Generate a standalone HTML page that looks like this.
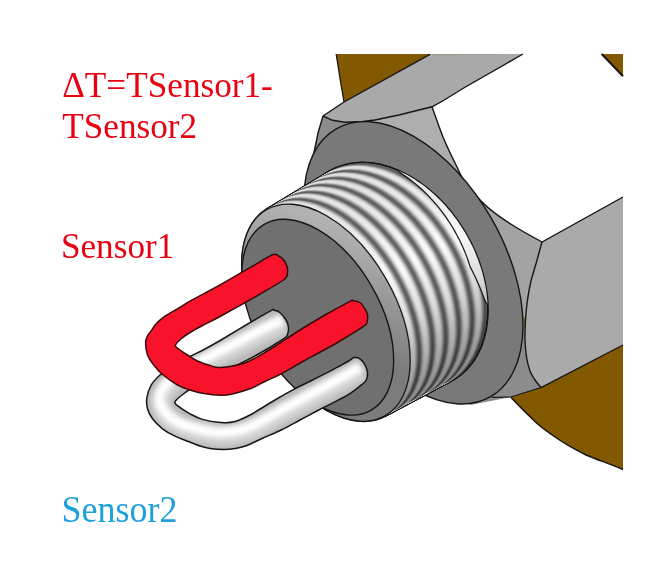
<!DOCTYPE html>
<html><head><meta charset="utf-8"><style>
html,body{margin:0;padding:0;background:#fff;}
svg{display:block;}
text{font-family:"Liberation Serif",serif;}
</style></head><body>
<svg width="648" height="568" viewBox="0 0 648 568">
<defs>
<radialGradient id="thg" cx="0.5" cy="0.5" r="0.5">
<stop offset="0" stop-color="#909090"/>
<stop offset="0.70" stop-color="#909090"/>
<stop offset="0.78" stop-color="#5a5a5a"/>
<stop offset="0.86" stop-color="#ffffff"/>
<stop offset="0.95" stop-color="#e8e8e8"/>
<stop offset="1" stop-color="#606060"/>
</radialGradient>
<linearGradient id="chg" gradientUnits="userSpaceOnUse" x1="250" y1="330" x2="340" y2="250">
<stop offset="0" stop-color="#7c7c7c"/>
<stop offset="1" stop-color="#b2b2b2"/>
</linearGradient>
<linearGradient id="silg" gradientUnits="userSpaceOnUse" x1="300" y1="360" x2="315" y2="390">
<stop offset="0" stop-color="#d0d0d0"/>
<stop offset="0.3" stop-color="#f6f6f6"/>
<stop offset="1" stop-color="#a8a8a8"/>
</linearGradient>
<linearGradient id="colg" gradientUnits="userSpaceOnUse" x1="320" y1="140" x2="520" y2="380">
<stop offset="0" stop-color="#797979"/>
<stop offset="1" stop-color="#6b6b6b"/>
</linearGradient>
<filter id="bl" x="-10%" y="-10%" width="120%" height="120%"><feGaussianBlur stdDeviation="1.2"/></filter>
<filter id="b3" x="-20%" y="-20%" width="140%" height="140%"><feGaussianBlur stdDeviation="2.5"/></filter>
</defs>
<rect width="648" height="568" fill="#fff"/>
<path d="M336.2,54 L623,54 L623,469.5 C610,464 598,460 586,455 C577,450 568,446 561,441 C552,435 543,429 536,422.5 C527,414 519,406 511,397.5 L470,300 L344,102 C343,95 341,85 339,72 C338,64 337,60 336.2,54 Z" fill="#825800"/>
<path d="M336.2,54 C337,60 338,64 339,72 C341,85 343,95 344,102" fill="none" stroke="#161616" stroke-width="1.3"/>
<path d="M511,397.5 C519,406 527,414 536,422.5 C543,429 552,435 561,441 C568,446 577,450 586,455 C598,460 610,464 623,469.5" fill="none" stroke="#161616" stroke-width="1.5"/>
<polygon points="323.0,116.0 345.0,122.0 400.0,118.0 458.0,169.0 482.0,202.0 512.0,269.0 524.0,320.0 529.0,369.0 541.0,387.5 511.0,397.0 470.0,405.0 380.0,300.0 304.0,196.0 305.9,187.0 309.5,172.0 313.5,155.0 318.0,133.0" fill="#8c8c8c"/>
<polygon points="323.0,116.0 344.0,102.0 430.0,54.3 523.0,54.0 462.0,89.0 444.4,100.0 432.0,106.8 400.0,114.8 375.0,120.0 362.5,121.5 345.0,122.3 332.5,120.3" fill="#a9a9a9"/>
<path d="M432,106.8 C436,118 439,127 443,137 C447,147 452,157 458,169 L470,185 L440,175 L350,123 L375,120 L400,114.8 Z" fill="#aeaeae"/>
<path d="M432,106.8 L444.4,100 L462,89 L523,54 L601.7,54 L623,76.3 L623,197 L542,242 C520,230 498,218 482,202 C470,190 462,180 458,169 C452,157 447,147 443,137 C439,127 436,118 432,106.8 Z" fill="#ffffff"/>
<path d="M482,202 C500,217 520,230 542,242 L536.5,262 L531,281 L527.5,300 L525.5,320 L520,310 L510,265 Z" fill="#a3a3a3"/>
<path d="M542.0,242.0 C541.1,245.3 538.3,255.5 536.5,262.0 C534.7,268.5 532.5,274.7 531.0,281.0 C529.5,287.3 528.4,293.5 527.5,300.0 C526.6,306.5 525.9,313.3 525.5,320.0 C525.1,326.7 524.8,333.8 525.0,340.0 C525.2,346.2 525.7,351.8 526.5,357.0 C527.3,362.2 528.6,367.2 530.0,371.0 C531.4,374.8 533.2,377.2 535.0,380.0 C536.8,382.8 540.0,386.2 541.0,387.5 L623,345 L623,197 Z" fill="#aaaaaa"/>
<path d="M323,116 L332.5,120.3 L345,122.3 L362.5,121.5 L375,120 L400,114.8 L432,106.8 L444.4,100 L462,89 L523,54" fill="none" stroke="#161616" stroke-width="1.4"/>
<path d="M323,116 L344,102 L430,54.3" fill="none" stroke="#161616" stroke-width="1.4" stroke-linejoin="round"/>
<path d="M601.7,54 L623,76.3" fill="none" stroke="#161616" stroke-width="2"/>
<path d="M432,106.8 C436,118 439,127 443,137 C447,147 452,157 458,169 C462,180 470,190 482,202 C498,218 520,230 542,242 L623,197" fill="none" stroke="#161616" stroke-width="1.4"/>
<path d="M542.0,242.0 C541.1,245.3 538.3,255.5 536.5,262.0 C534.7,268.5 532.5,274.7 531.0,281.0 C529.5,287.3 528.4,293.5 527.5,300.0 C526.6,306.5 525.9,313.3 525.5,320.0 C525.1,326.7 524.8,333.8 525.0,340.0 C525.2,346.2 525.7,351.8 526.5,357.0 C527.3,362.2 528.6,367.2 530.0,371.0 C531.4,374.8 533.2,377.2 535.0,380.0 C536.8,382.8 540.0,386.2 541.0,387.5 L623,345" fill="none" stroke="#161616" stroke-width="1.4"/>
<path d="M323,116 L318,133 L313.5,155 L309.5,172 L305.9,187 L304,196" fill="none" stroke="#161616" stroke-width="1.4" stroke-linejoin="round"/>
<path d="M541,387.5 L511,397 L491.9,397.4" fill="none" stroke="#161616" stroke-width="1.2"/>
<ellipse cx="0" cy="0" rx="89.70" ry="154.60" transform="translate(413.40 262.80) rotate(-30.0)" fill="url(#colg)" stroke="#161616" stroke-width="1.4"/>
<g><ellipse cx="0" cy="0" rx="84.50" ry="121.00" transform="translate(392.00 275.20) rotate(-31.0)" fill="none" stroke="#161616" stroke-width="2.6"/><ellipse cx="0" cy="0" rx="83.89" ry="120.92" transform="translate(389.39 276.68) rotate(-30.9605244704567)" fill="none" stroke="#161616" stroke-width="2.6"/><ellipse cx="0" cy="0" rx="83.28" ry="120.83" transform="translate(386.78 278.16) rotate(-30.9210489409134)" fill="none" stroke="#161616" stroke-width="2.6"/><ellipse cx="0" cy="0" rx="82.66" ry="120.75" transform="translate(384.17 279.64) rotate(-30.8815734113701)" fill="none" stroke="#161616" stroke-width="2.6"/><ellipse cx="0" cy="0" rx="82.05" ry="120.67" transform="translate(381.56 281.12) rotate(-30.8420978818268)" fill="none" stroke="#161616" stroke-width="2.6"/><ellipse cx="0" cy="0" rx="81.44" ry="120.59" transform="translate(378.95 282.60) rotate(-30.8026223522835)" fill="none" stroke="#161616" stroke-width="2.6"/><ellipse cx="0" cy="0" rx="80.83" ry="120.50" transform="translate(376.34 284.08) rotate(-30.763146822740197)" fill="none" stroke="#161616" stroke-width="2.6"/><ellipse cx="0" cy="0" rx="80.22" ry="120.42" transform="translate(373.73 285.56) rotate(-30.723671293196897)" fill="none" stroke="#161616" stroke-width="2.6"/><ellipse cx="0" cy="0" rx="79.61" ry="120.34" transform="translate(371.13 287.04) rotate(-30.684195763653598)" fill="none" stroke="#161616" stroke-width="2.6"/><ellipse cx="0" cy="0" rx="78.99" ry="120.25" transform="translate(368.52 288.52) rotate(-30.6447202341103)" fill="none" stroke="#161616" stroke-width="2.6"/><ellipse cx="0" cy="0" rx="78.38" ry="120.17" transform="translate(365.91 290.00) rotate(-30.605244704566996)" fill="none" stroke="#161616" stroke-width="2.6"/><ellipse cx="0" cy="0" rx="77.77" ry="120.09" transform="translate(363.30 291.48) rotate(-30.565769175023696)" fill="none" stroke="#161616" stroke-width="2.6"/><ellipse cx="0" cy="0" rx="77.16" ry="120.01" transform="translate(360.69 292.96) rotate(-30.526293645480397)" fill="none" stroke="#161616" stroke-width="2.6"/><ellipse cx="0" cy="0" rx="76.55" ry="119.92" transform="translate(358.08 294.44) rotate(-30.486818115937098)" fill="none" stroke="#161616" stroke-width="2.6"/><ellipse cx="0" cy="0" rx="75.93" ry="119.84" transform="translate(355.47 295.92) rotate(-30.447342586393795)" fill="none" stroke="#161616" stroke-width="2.6"/><ellipse cx="0" cy="0" rx="75.32" ry="119.76" transform="translate(352.86 297.40) rotate(-30.407867056850495)" fill="none" stroke="#161616" stroke-width="2.6"/><ellipse cx="0" cy="0" rx="74.71" ry="119.67" transform="translate(350.25 298.89) rotate(-30.368391527307196)" fill="none" stroke="#161616" stroke-width="2.6"/><ellipse cx="0" cy="0" rx="74.10" ry="119.59" transform="translate(347.64 300.37) rotate(-30.328915997763897)" fill="none" stroke="#161616" stroke-width="2.6"/><ellipse cx="0" cy="0" rx="73.49" ry="119.51" transform="translate(345.03 301.85) rotate(-30.289440468220594)" fill="none" stroke="#161616" stroke-width="2.6"/><ellipse cx="0" cy="0" rx="72.87" ry="119.42" transform="translate(342.42 303.33) rotate(-30.249964938677294)" fill="none" stroke="#161616" stroke-width="2.6"/><ellipse cx="0" cy="0" rx="72.26" ry="119.34" transform="translate(339.81 304.81) rotate(-30.210489409133995)" fill="none" stroke="#161616" stroke-width="2.6"/><ellipse cx="0" cy="0" rx="71.65" ry="119.26" transform="translate(337.20 306.29) rotate(-30.171013879590696)" fill="none" stroke="#161616" stroke-width="2.6"/><ellipse cx="0" cy="0" rx="71.04" ry="119.18" transform="translate(334.59 307.77) rotate(-30.131538350047393)" fill="none" stroke="#161616" stroke-width="2.6"/><ellipse cx="0" cy="0" rx="70.43" ry="119.09" transform="translate(331.99 309.25) rotate(-30.092062820504093)" fill="none" stroke="#161616" stroke-width="2.6"/><ellipse cx="0" cy="0" rx="69.82" ry="119.01" transform="translate(329.38 310.73) rotate(-30.052587290960794)" fill="none" stroke="#161616" stroke-width="2.6"/><ellipse cx="0" cy="0" rx="69.20" ry="118.93" transform="translate(326.77 312.21) rotate(-30.013111761417495)" fill="none" stroke="#161616" stroke-width="2.6"/></g>
<ellipse cx="0" cy="0" rx="84.50" ry="121.00" transform="translate(392.00 275.20) rotate(-31.0)" fill="#888888" stroke="#161616" stroke-width="1.3"/>
<g><ellipse cx="0" cy="0" rx="84.34" ry="120.98" transform="translate(391.30 275.59) rotate(-30.989473192121785)" fill="#707070"/><ellipse cx="0" cy="0" rx="84.17" ry="120.96" transform="translate(390.61 275.99) rotate(-30.978946384243574)" fill="#646464"/><ellipse cx="0" cy="0" rx="84.01" ry="120.93" transform="translate(389.91 276.38) rotate(-30.96841957636536)" fill="#6a6a6a"/><ellipse cx="0" cy="0" rx="83.85" ry="120.91" transform="translate(389.22 276.78) rotate(-30.957892768487145)" fill="#7e7e7e"/><ellipse cx="0" cy="0" rx="83.68" ry="120.89" transform="translate(388.52 277.17) rotate(-30.947365960608934)" fill="#9c9c9c"/><ellipse cx="0" cy="0" rx="83.52" ry="120.87" transform="translate(387.83 277.57) rotate(-30.93683915273072)" fill="#bebebe"/><ellipse cx="0" cy="0" rx="83.36" ry="120.85" transform="translate(387.13 277.96) rotate(-30.926312344852505)" fill="#dbdbdb"/><ellipse cx="0" cy="0" rx="83.19" ry="120.82" transform="translate(386.43 278.36) rotate(-30.915785536974294)" fill="#eeeeee"/><ellipse cx="0" cy="0" rx="83.03" ry="120.80" transform="translate(385.74 278.75) rotate(-30.90525872909608)" fill="#f8f8f8"/><ellipse cx="0" cy="0" rx="82.87" ry="120.78" transform="translate(385.04 279.15) rotate(-30.894731921217865)" fill="#fafafa"/><ellipse cx="0" cy="0" rx="82.71" ry="120.76" transform="translate(384.35 279.54) rotate(-30.884205113339654)" fill="#fafafa"/><ellipse cx="0" cy="0" rx="82.54" ry="120.73" transform="translate(383.65 279.94) rotate(-30.87367830546144)" fill="#f5f5f5"/><ellipse cx="0" cy="0" rx="82.38" ry="120.71" transform="translate(382.95 280.33) rotate(-30.863151497583225)" fill="#e7e7e7"/></g>
<path d="M397.5,170.4 L400.3,171.6 L403.1,172.9 L405.8,174.3 L408.6,175.8 L411.4,177.4 L414.1,179.1 L416.8,180.9 L419.5,182.7 L422.2,184.6 L424.8,186.6 L427.4,188.7 L430.0,190.8 L432.6,193.0 L435.1,195.3 L437.6,197.7 L440.0,200.1 L442.4,202.6 L444.8,205.1 L447.1,207.8 L449.4,210.4 L451.6,213.1 L453.7,215.9 L455.9,218.8 L457.9,221.6 L459.9,224.6 L461.8,227.5 L463.7,230.5 L465.5,233.6 L467.3,236.7 L469.0,239.8 L470.6,242.9 L472.2,246.1 L473.7,249.3 L475.1,252.5 L476.4,255.7 L477.7,259.0 L478.9,262.3 L480.0,265.5 L481.1,268.8 L482.1,272.1 L483.0,275.4 L483.8,278.7 L484.5,282.0 L485.2,285.3 L485.8,288.6 L486.3,291.9 L486.7,295.1 L487.0,298.3 L487.3,301.6 L487.4,304.8 L487.4,304.8 L485.9,302.4 L484.7,299.7 L483.6,296.9 L482.5,294.1 L481.4,291.2 L480.2,288.3 L479.0,285.3 L477.7,282.4 L476.4,279.4 L475.0,276.4 L473.5,273.4 L472.0,270.4 L470.4,267.4 L469.3,264.1 L468.2,260.7 L467.0,257.4 L465.7,254.1 L464.4,250.8 L463.0,247.5 L461.5,244.3 L460.0,241.1 L458.4,237.9 L456.7,234.7 L455.0,231.6 L453.3,228.5 L451.4,225.5 L449.5,222.5 L447.6,219.6 L445.6,216.7 L443.6,213.9 L441.5,211.1 L439.4,208.4 L437.2,205.7 L435.0,203.1 L432.8,200.6 L430.5,198.1 L428.2,195.7 L425.9,193.3 L423.5,191.0 L421.2,188.8 L418.8,186.7 L416.3,184.6 L413.9,182.6 L411.5,180.7 L409.0,178.8 L406.6,177.1 L404.2,175.4 L401.8,173.7 L399.5,172.1 L397.5,170.4 Z" fill="#f8f8f8"/>
<path d="M397.5,170.4 L399.5,172.1 L401.8,173.7 L404.2,175.4 L406.6,177.1 L409.0,178.8 L411.5,180.7 L413.9,182.6 L416.3,184.6 L418.8,186.7 L421.2,188.8 L423.5,191.0 L425.9,193.3 L428.2,195.7 L430.5,198.1 L432.8,200.6 L435.0,203.1 L437.2,205.7 L439.4,208.4 L441.5,211.1 L443.6,213.9 L445.6,216.7 L447.6,219.6 L449.5,222.5 L451.4,225.5 L453.3,228.5 L455.0,231.6 L456.7,234.7 L458.4,237.9 L460.0,241.1 L461.5,244.3 L463.0,247.5 L464.4,250.8 L465.7,254.1 L467.0,257.4 L468.2,260.7 L469.3,264.1 L470.4,267.4 L472.0,270.4 L473.5,273.4 L475.0,276.4 L476.4,279.4 L477.7,282.4 L479.0,285.3 L480.2,288.3 L481.4,291.2 L482.5,294.1 L483.6,296.9 L484.7,299.7 L485.9,302.4 L487.4,304.8" fill="none" stroke="#161616" stroke-width="1.2"/>
<g><ellipse cx="0" cy="0" rx="82.22" ry="120.69" transform="translate(382.26 280.73) rotate(-30.852624689705014)" fill="#cfcfcf"/><ellipse cx="0" cy="0" rx="82.05" ry="120.67" transform="translate(381.56 281.12) rotate(-30.8420978818268)" fill="#afafaf"/><ellipse cx="0" cy="0" rx="81.89" ry="120.65" transform="translate(380.87 281.52) rotate(-30.831571073948584)" fill="#8e8e8e"/><ellipse cx="0" cy="0" rx="81.73" ry="120.62" transform="translate(380.17 281.91) rotate(-30.821044266070373)" fill="#737373"/><ellipse cx="0" cy="0" rx="81.56" ry="120.60" transform="translate(379.48 282.31) rotate(-30.81051745819216)" fill="#656565"/><ellipse cx="0" cy="0" rx="81.40" ry="120.58" transform="translate(378.78 282.70) rotate(-30.799990650313944)" fill="#676767"/><ellipse cx="0" cy="0" rx="81.24" ry="120.56" transform="translate(378.08 283.10) rotate(-30.789463842435733)" fill="#797979"/><ellipse cx="0" cy="0" rx="81.07" ry="120.54" transform="translate(377.39 283.49) rotate(-30.77893703455752)" fill="#969696"/><ellipse cx="0" cy="0" rx="80.91" ry="120.51" transform="translate(376.69 283.88) rotate(-30.768410226679308)" fill="#b8b8b8"/><ellipse cx="0" cy="0" rx="80.75" ry="120.49" transform="translate(376.00 284.28) rotate(-30.757883418801093)" fill="#d6d6d6"/><ellipse cx="0" cy="0" rx="80.58" ry="120.47" transform="translate(375.30 284.67) rotate(-30.74735661092288)" fill="#ebebeb"/><ellipse cx="0" cy="0" rx="80.42" ry="120.45" transform="translate(374.60 285.07) rotate(-30.736829803044667)" fill="#f7f7f7"/><ellipse cx="0" cy="0" rx="80.26" ry="120.43" transform="translate(373.91 285.46) rotate(-30.726302995166453)" fill="#fafafa"/><ellipse cx="0" cy="0" rx="80.09" ry="120.40" transform="translate(373.21 285.86) rotate(-30.715776187288238)" fill="#fafafa"/><ellipse cx="0" cy="0" rx="79.93" ry="120.38" transform="translate(372.52 286.25) rotate(-30.705249379410027)" fill="#f6f6f6"/><ellipse cx="0" cy="0" rx="79.77" ry="120.36" transform="translate(371.82 286.65) rotate(-30.694722571531813)" fill="#eaeaea"/><ellipse cx="0" cy="0" rx="79.61" ry="120.34" transform="translate(371.13 287.04) rotate(-30.684195763653598)" fill="#d4d4d4"/><ellipse cx="0" cy="0" rx="79.44" ry="120.31" transform="translate(370.43 287.44) rotate(-30.673668955775387)" fill="#b5b5b5"/><ellipse cx="0" cy="0" rx="79.28" ry="120.29" transform="translate(369.73 287.83) rotate(-30.663142147897172)" fill="#949494"/><ellipse cx="0" cy="0" rx="79.12" ry="120.27" transform="translate(369.04 288.23) rotate(-30.652615340018958)" fill="#787878"/><ellipse cx="0" cy="0" rx="78.95" ry="120.25" transform="translate(368.34 288.62) rotate(-30.642088532140747)" fill="#676767"/><ellipse cx="0" cy="0" rx="78.79" ry="120.23" transform="translate(367.65 289.02) rotate(-30.631561724262532)" fill="#666666"/><ellipse cx="0" cy="0" rx="78.63" ry="120.20" transform="translate(366.95 289.41) rotate(-30.621034916384318)" fill="#757575"/><ellipse cx="0" cy="0" rx="78.46" ry="120.18" transform="translate(366.25 289.81) rotate(-30.610508108506107)" fill="#909090"/><ellipse cx="0" cy="0" rx="78.30" ry="120.16" transform="translate(365.56 290.20) rotate(-30.599981300627892)" fill="#b1b1b1"/><ellipse cx="0" cy="0" rx="78.14" ry="120.14" transform="translate(364.86 290.60) rotate(-30.589454492749677)" fill="#d1d1d1"/><ellipse cx="0" cy="0" rx="77.97" ry="120.12" transform="translate(364.17 290.99) rotate(-30.578927684871466)" fill="#e8e8e8"/><ellipse cx="0" cy="0" rx="77.81" ry="120.09" transform="translate(363.47 291.38) rotate(-30.568400876993252)" fill="#f5f5f5"/><ellipse cx="0" cy="0" rx="77.65" ry="120.07" transform="translate(362.78 291.78) rotate(-30.557874069115037)" fill="#fafafa"/><ellipse cx="0" cy="0" rx="77.48" ry="120.05" transform="translate(362.08 292.17) rotate(-30.547347261236826)" fill="#fafafa"/><ellipse cx="0" cy="0" rx="77.32" ry="120.03" transform="translate(361.38 292.57) rotate(-30.53682045335861)" fill="#f7f7f7"/><ellipse cx="0" cy="0" rx="77.16" ry="120.01" transform="translate(360.69 292.96) rotate(-30.526293645480397)" fill="#ededed"/><ellipse cx="0" cy="0" rx="76.99" ry="119.98" transform="translate(359.99 293.36) rotate(-30.515766837602186)" fill="#d9d9d9"/><ellipse cx="0" cy="0" rx="76.83" ry="119.96" transform="translate(359.30 293.75) rotate(-30.50524002972397)" fill="#bbbbbb"/><ellipse cx="0" cy="0" rx="76.67" ry="119.94" transform="translate(358.60 294.15) rotate(-30.494713221845757)" fill="#9a9a9a"/><ellipse cx="0" cy="0" rx="76.50" ry="119.92" transform="translate(357.90 294.54) rotate(-30.484186413967546)" fill="#7c7c7c"/><ellipse cx="0" cy="0" rx="76.34" ry="119.89" transform="translate(357.21 294.94) rotate(-30.47365960608933)" fill="#696969"/><ellipse cx="0" cy="0" rx="76.18" ry="119.87" transform="translate(356.51 295.33) rotate(-30.463132798211117)" fill="#656565"/><ellipse cx="0" cy="0" rx="76.02" ry="119.85" transform="translate(355.82 295.73) rotate(-30.452605990332906)" fill="#717171"/><ellipse cx="0" cy="0" rx="75.85" ry="119.83" transform="translate(355.12 296.12) rotate(-30.44207918245469)" fill="#8b8b8b"/><ellipse cx="0" cy="0" rx="75.69" ry="119.81" transform="translate(354.43 296.52) rotate(-30.431552374576476)" fill="#ababab"/><ellipse cx="0" cy="0" rx="75.53" ry="119.78" transform="translate(353.73 296.91) rotate(-30.421025566698265)" fill="#cbcbcb"/><ellipse cx="0" cy="0" rx="75.36" ry="119.76" transform="translate(353.03 297.31) rotate(-30.41049875882005)" fill="#e4e4e4"/><ellipse cx="0" cy="0" rx="75.20" ry="119.74" transform="translate(352.34 297.70) rotate(-30.399971950941836)" fill="#f4f4f4"/><ellipse cx="0" cy="0" rx="75.04" ry="119.72" transform="translate(351.64 298.10) rotate(-30.389445143063625)" fill="#f9f9f9"/><ellipse cx="0" cy="0" rx="74.87" ry="119.70" transform="translate(350.95 298.49) rotate(-30.37891833518541)" fill="#fafafa"/><ellipse cx="0" cy="0" rx="74.71" ry="119.67" transform="translate(350.25 298.89) rotate(-30.368391527307196)" fill="#f8f8f8"/><ellipse cx="0" cy="0" rx="74.55" ry="119.65" transform="translate(349.55 299.28) rotate(-30.357864719428985)" fill="#f0f0f0"/><ellipse cx="0" cy="0" rx="74.38" ry="119.63" transform="translate(348.86 299.67) rotate(-30.34733791155077)" fill="#dddddd"/><ellipse cx="0" cy="0" rx="74.22" ry="119.61" transform="translate(348.16 300.07) rotate(-30.336811103672556)" fill="#c1c1c1"/><ellipse cx="0" cy="0" rx="74.06" ry="119.59" transform="translate(347.47 300.46) rotate(-30.326284295794345)" fill="#a0a0a0"/><ellipse cx="0" cy="0" rx="73.89" ry="119.56" transform="translate(346.77 300.86) rotate(-30.31575748791613)" fill="#818181"/><ellipse cx="0" cy="0" rx="73.73" ry="119.54" transform="translate(346.08 301.25) rotate(-30.305230680037916)" fill="#6b6b6b"/><ellipse cx="0" cy="0" rx="73.57" ry="119.52" transform="translate(345.38 301.65) rotate(-30.294703872159705)" fill="#646464"/><ellipse cx="0" cy="0" rx="73.40" ry="119.50" transform="translate(344.68 302.04) rotate(-30.28417706428149)" fill="#6d6d6d"/><ellipse cx="0" cy="0" rx="73.24" ry="119.47" transform="translate(343.99 302.44) rotate(-30.273650256403275)" fill="#858585"/><ellipse cx="0" cy="0" rx="73.08" ry="119.45" transform="translate(343.29 302.83) rotate(-30.263123448525064)" fill="#a5a5a5"/><ellipse cx="0" cy="0" rx="72.92" ry="119.43" transform="translate(342.60 303.23) rotate(-30.25259664064685)" fill="#c6c6c6"/><ellipse cx="0" cy="0" rx="72.75" ry="119.41" transform="translate(341.90 303.62) rotate(-30.242069832768635)" fill="#e0e0e0"/><ellipse cx="0" cy="0" rx="72.59" ry="119.39" transform="translate(341.20 304.02) rotate(-30.231543024890424)" fill="#f2f2f2"/><ellipse cx="0" cy="0" rx="72.43" ry="119.36" transform="translate(340.51 304.41) rotate(-30.22101621701221)" fill="#f9f9f9"/><ellipse cx="0" cy="0" rx="72.26" ry="119.34" transform="translate(339.81 304.81) rotate(-30.210489409133995)" fill="#fafafa"/><ellipse cx="0" cy="0" rx="72.10" ry="119.32" transform="translate(339.12 305.20) rotate(-30.199962601255784)" fill="#f9f9f9"/><ellipse cx="0" cy="0" rx="71.94" ry="119.30" transform="translate(338.42 305.60) rotate(-30.18943579337757)" fill="#f2f2f2"/><ellipse cx="0" cy="0" rx="71.77" ry="119.28" transform="translate(337.73 305.99) rotate(-30.178908985499355)" fill="#e2e2e2"/><ellipse cx="0" cy="0" rx="71.61" ry="119.25" transform="translate(337.03 306.39) rotate(-30.168382177621144)" fill="#c7c7c7"/><ellipse cx="0" cy="0" rx="71.45" ry="119.23" transform="translate(336.33 306.78) rotate(-30.15785536974293)" fill="#a7a7a7"/><ellipse cx="0" cy="0" rx="71.28" ry="119.21" transform="translate(335.64 307.18) rotate(-30.147328561864715)" fill="#878787"/><ellipse cx="0" cy="0" rx="71.12" ry="119.19" transform="translate(334.94 307.57) rotate(-30.136801753986504)" fill="#6e6e6e"/><ellipse cx="0" cy="0" rx="70.96" ry="119.17" transform="translate(334.25 307.96) rotate(-30.12627494610829)" fill="#646464"/><ellipse cx="0" cy="0" rx="70.79" ry="119.14" transform="translate(333.55 308.36) rotate(-30.115748138230074)" fill="#6a6a6a"/><ellipse cx="0" cy="0" rx="70.63" ry="119.12" transform="translate(332.86 308.75) rotate(-30.105221330351863)" fill="#808080"/><ellipse cx="0" cy="0" rx="70.47" ry="119.10" transform="translate(332.16 309.15) rotate(-30.09469452247365)" fill="#9f9f9f"/><ellipse cx="0" cy="0" rx="70.30" ry="119.08" transform="translate(331.46 309.54) rotate(-30.084167714595434)" fill="#c0c0c0"/><ellipse cx="0" cy="0" rx="70.14" ry="119.05" transform="translate(330.77 309.94) rotate(-30.073640906717223)" fill="#dcdcdc"/><ellipse cx="0" cy="0" rx="69.98" ry="119.03" transform="translate(330.07 310.33) rotate(-30.06311409883901)" fill="#efefef"/><ellipse cx="0" cy="0" rx="69.82" ry="119.01" transform="translate(329.38 310.73) rotate(-30.052587290960794)" fill="#f8f8f8"/><ellipse cx="0" cy="0" rx="69.65" ry="118.99" transform="translate(328.68 311.12) rotate(-30.042060483082583)" fill="#fafafa"/><ellipse cx="0" cy="0" rx="69.49" ry="118.97" transform="translate(327.98 311.52) rotate(-30.03153367520437)" fill="#f9f9f9"/><ellipse cx="0" cy="0" rx="69.33" ry="118.94" transform="translate(327.29 311.91) rotate(-30.021006867326154)" fill="#f4f4f4"/><ellipse cx="0" cy="0" rx="69.16" ry="118.92" transform="translate(326.59 312.31) rotate(-30.010480059447943)" fill="#e6e6e6"/></g>
<linearGradient id="thov" gradientUnits="userSpaceOnUse" x1="299.7" y1="191.3" x2="418.2" y2="396.6"><stop offset="0" stop-color="#000" stop-opacity="0.10"/><stop offset="0.3" stop-color="#000" stop-opacity="0.05"/><stop offset="0.5" stop-color="#000" stop-opacity="0"/><stop offset="0.7" stop-color="#000" stop-opacity="0.12"/><stop offset="1" stop-color="#000" stop-opacity="0.45"/></linearGradient>
<clipPath id="thclip"><ellipse cx="0" cy="0" rx="69.00" ry="118.90" transform="translate(325.90 312.70) rotate(-30.0)" /><ellipse cx="0" cy="0" rx="72.88" ry="119.43" transform="translate(342.42 303.32) rotate(-30.25)" /><ellipse cx="0" cy="0" rx="76.75" ry="119.95" transform="translate(358.95 293.95) rotate(-30.5)" /><ellipse cx="0" cy="0" rx="80.62" ry="120.47" transform="translate(375.47 284.57) rotate(-30.75)" /><ellipse cx="0" cy="0" rx="84.50" ry="121.00" transform="translate(392.00 275.20) rotate(-31.0)" /></clipPath>
<rect x="250" y="150" width="260" height="270" fill="url(#thov)" clip-path="url(#thclip)"/>
<ellipse cx="0" cy="0" rx="69.00" ry="118.90" transform="translate(325.90 312.70) rotate(-30.0)" fill="url(#chg)" stroke="#161616" stroke-width="1.3"/>
<ellipse cx="0" cy="0" rx="62.20" ry="107.20" transform="translate(317.70 317.20) rotate(-30.0)" fill="#707070" stroke="#161616" stroke-width="1.4"/>
<clipPath id="silclip"><path d="M271.0,310.6 C275.6,308.1 272.0,309.7 273.5,310.0 C275.0,310.3 277.7,310.8 279.8,312.5 C281.8,314.2 284.5,317.5 286.0,320.0 C287.5,322.5 288.3,325.0 288.5,327.5 C288.7,330.0 288.1,333.1 287.2,335.0 C286.4,336.9 288.3,335.6 283.5,338.8 C278.7,341.9 266.8,349.3 258.5,354.0 C250.2,358.7 240.8,363.3 233.5,367.0 C226.2,370.7 221.4,372.8 215.0,376.0 C208.6,379.2 200.5,382.8 195.0,386.0 C189.5,389.2 185.3,392.4 182.0,395.0 C178.7,397.6 175.8,400.1 175.0,401.9 C174.2,403.7 175.0,403.6 177.5,405.6 C180.0,407.6 185.8,411.4 190.0,413.8 C194.2,416.1 197.3,417.9 202.5,419.4 C207.7,420.9 215.6,422.1 221.0,422.5 C226.4,422.9 230.2,422.8 235.0,421.5 C239.8,420.2 243.3,418.6 250.0,415.0 C256.7,411.4 267.7,404.3 275.0,400.0 C282.3,395.7 287.5,392.7 293.8,389.4 C300.0,386.1 306.3,383.1 312.5,380.0 C318.7,376.9 325.6,373.4 331.0,370.6 C336.4,367.8 341.9,364.7 345.0,363.0 C348.1,361.3 348.0,361.4 349.5,360.5 C351.0,359.6 352.2,357.9 354.0,357.6 C355.8,357.3 358.2,357.5 360.0,358.8 C361.8,360.0 363.8,362.7 365.0,365.0 C366.2,367.3 367.3,370.0 367.5,372.5 C367.7,375.0 367.1,378.1 366.2,380.0 C365.4,381.9 365.2,381.7 362.5,384.0 C359.8,386.3 355.2,390.3 350.0,393.6 C344.8,396.9 336.2,401.0 331.0,403.8 C325.8,406.5 323.9,407.3 318.8,410.0 C313.6,412.7 306.2,416.7 300.0,420.0 C293.8,423.3 287.6,426.9 281.2,430.0 C274.9,433.1 267.7,435.9 262.0,438.5 C256.3,441.1 251.5,443.8 247.0,445.5 C242.5,447.2 238.9,447.8 235.0,448.5 C231.1,449.2 227.8,449.5 223.6,449.5 C219.4,449.5 213.9,449.1 210.0,448.5 C206.1,447.9 203.8,447.2 200.0,446.0 C196.2,444.8 191.7,442.9 187.5,441.2 C183.3,439.6 179.2,438.3 175.0,436.2 C170.8,434.2 166.2,431.7 162.5,428.8 C158.8,425.8 155.0,422.1 152.5,418.8 C150.0,415.4 148.4,412.3 147.5,408.8 C146.6,405.2 146.3,401.5 146.9,397.5 C147.5,393.5 149.1,388.8 151.2,385.0 C153.4,381.2 156.5,378.2 160.0,375.0 C163.5,371.8 167.0,369.1 172.0,366.0 C177.0,362.9 184.5,359.3 190.0,356.5 C195.5,353.7 199.8,351.8 205.0,349.0 C210.2,346.2 214.2,344.0 221.0,340.0 C227.8,336.0 237.7,329.9 246.0,325.0 C254.3,320.1 266.4,313.1 271.0,310.6 Z"/></clipPath>
<path d="M271.0,310.6 C275.6,308.1 272.0,309.7 273.5,310.0 C275.0,310.3 277.7,310.8 279.8,312.5 C281.8,314.2 284.5,317.5 286.0,320.0 C287.5,322.5 288.3,325.0 288.5,327.5 C288.7,330.0 288.1,333.1 287.2,335.0 C286.4,336.9 288.3,335.6 283.5,338.8 C278.7,341.9 266.8,349.3 258.5,354.0 C250.2,358.7 240.8,363.3 233.5,367.0 C226.2,370.7 221.4,372.8 215.0,376.0 C208.6,379.2 200.5,382.8 195.0,386.0 C189.5,389.2 185.3,392.4 182.0,395.0 C178.7,397.6 175.8,400.1 175.0,401.9 C174.2,403.7 175.0,403.6 177.5,405.6 C180.0,407.6 185.8,411.4 190.0,413.8 C194.2,416.1 197.3,417.9 202.5,419.4 C207.7,420.9 215.6,422.1 221.0,422.5 C226.4,422.9 230.2,422.8 235.0,421.5 C239.8,420.2 243.3,418.6 250.0,415.0 C256.7,411.4 267.7,404.3 275.0,400.0 C282.3,395.7 287.5,392.7 293.8,389.4 C300.0,386.1 306.3,383.1 312.5,380.0 C318.7,376.9 325.6,373.4 331.0,370.6 C336.4,367.8 341.9,364.7 345.0,363.0 C348.1,361.3 348.0,361.4 349.5,360.5 C351.0,359.6 352.2,357.9 354.0,357.6 C355.8,357.3 358.2,357.5 360.0,358.8 C361.8,360.0 363.8,362.7 365.0,365.0 C366.2,367.3 367.3,370.0 367.5,372.5 C367.7,375.0 367.1,378.1 366.2,380.0 C365.4,381.9 365.2,381.7 362.5,384.0 C359.8,386.3 355.2,390.3 350.0,393.6 C344.8,396.9 336.2,401.0 331.0,403.8 C325.8,406.5 323.9,407.3 318.8,410.0 C313.6,412.7 306.2,416.7 300.0,420.0 C293.8,423.3 287.6,426.9 281.2,430.0 C274.9,433.1 267.7,435.9 262.0,438.5 C256.3,441.1 251.5,443.8 247.0,445.5 C242.5,447.2 238.9,447.8 235.0,448.5 C231.1,449.2 227.8,449.5 223.6,449.5 C219.4,449.5 213.9,449.1 210.0,448.5 C206.1,447.9 203.8,447.2 200.0,446.0 C196.2,444.8 191.7,442.9 187.5,441.2 C183.3,439.6 179.2,438.3 175.0,436.2 C170.8,434.2 166.2,431.7 162.5,428.8 C158.8,425.8 155.0,422.1 152.5,418.8 C150.0,415.4 148.4,412.3 147.5,408.8 C146.6,405.2 146.3,401.5 146.9,397.5 C147.5,393.5 149.1,388.8 151.2,385.0 C153.4,381.2 156.5,378.2 160.0,375.0 C163.5,371.8 167.0,369.1 172.0,366.0 C177.0,362.9 184.5,359.3 190.0,356.5 C195.5,353.7 199.8,351.8 205.0,349.0 C210.2,346.2 214.2,344.0 221.0,340.0 C227.8,336.0 237.7,329.9 246.0,325.0 C254.3,320.1 266.4,313.1 271.0,310.6 Z" fill="#b6b6b6"/>
<g clip-path="url(#silclip)"><path d="M284.0,323.0 C279.8,325.0 266.9,331.0 258.5,335.2 C250.1,339.4 241.6,344.1 233.5,348.2 C225.4,352.3 217.6,356.0 210.0,360.0 C202.4,364.0 194.7,367.8 188.0,372.0 C181.3,376.2 174.5,380.3 170.0,385.0 C165.5,389.7 161.7,395.0 161.0,400.0 C160.3,405.0 162.8,410.7 166.0,415.0 C169.2,419.3 174.3,423.1 180.0,426.0 C185.7,428.9 192.7,430.6 200.0,432.3 C207.3,434.0 215.3,436.3 223.6,436.0 C231.9,435.7 240.4,434.4 250.0,430.7 C259.6,427.0 267.8,421.2 281.2,414.0 C294.8,406.8 317.5,394.5 331.0,387.2 C344.5,379.9 356.8,372.9 362.0,370.0" fill="none" stroke="#d2d2d2" stroke-width="20" filter="url(#b3)"/><path d="M282.5,319.8 C278.2,321.8 265.4,327.8 257.0,332.0 C248.6,336.2 240.1,340.9 232.0,345.0 C223.9,349.1 216.1,352.8 208.5,356.8 C200.9,360.8 193.2,364.6 186.5,368.8 C179.8,373.0 173.0,377.1 168.5,381.8 C164.0,386.5 160.2,391.8 159.5,396.8 C158.8,401.8 161.3,407.5 164.5,411.8 C167.7,416.1 172.8,419.9 178.5,422.8 C184.2,425.7 191.2,427.4 198.5,429.1 C205.8,430.8 213.8,433.1 222.1,432.8 C230.4,432.5 238.9,431.2 248.5,427.5 C258.1,423.8 266.2,418.1 279.8,410.8 C293.2,403.6 316.0,391.3 329.5,384.0 C343.0,376.7 355.3,369.7 360.5,366.8" fill="none" stroke="#ffffff" stroke-width="10" filter="url(#b3)"/></g>
<path d="M271.0,310.6 C275.6,308.1 272.0,309.7 273.5,310.0 C275.0,310.3 277.7,310.8 279.8,312.5 C281.8,314.2 284.5,317.5 286.0,320.0 C287.5,322.5 288.3,325.0 288.5,327.5 C288.7,330.0 288.1,333.1 287.2,335.0 C286.4,336.9 288.3,335.6 283.5,338.8 C278.7,341.9 266.8,349.3 258.5,354.0 C250.2,358.7 240.8,363.3 233.5,367.0 C226.2,370.7 221.4,372.8 215.0,376.0 C208.6,379.2 200.5,382.8 195.0,386.0 C189.5,389.2 185.3,392.4 182.0,395.0 C178.7,397.6 175.8,400.1 175.0,401.9 C174.2,403.7 175.0,403.6 177.5,405.6 C180.0,407.6 185.8,411.4 190.0,413.8 C194.2,416.1 197.3,417.9 202.5,419.4 C207.7,420.9 215.6,422.1 221.0,422.5 C226.4,422.9 230.2,422.8 235.0,421.5 C239.8,420.2 243.3,418.6 250.0,415.0 C256.7,411.4 267.7,404.3 275.0,400.0 C282.3,395.7 287.5,392.7 293.8,389.4 C300.0,386.1 306.3,383.1 312.5,380.0 C318.7,376.9 325.6,373.4 331.0,370.6 C336.4,367.8 341.9,364.7 345.0,363.0 C348.1,361.3 348.0,361.4 349.5,360.5 C351.0,359.6 352.2,357.9 354.0,357.6 C355.8,357.3 358.2,357.5 360.0,358.8 C361.8,360.0 363.8,362.7 365.0,365.0 C366.2,367.3 367.3,370.0 367.5,372.5 C367.7,375.0 367.1,378.1 366.2,380.0 C365.4,381.9 365.2,381.7 362.5,384.0 C359.8,386.3 355.2,390.3 350.0,393.6 C344.8,396.9 336.2,401.0 331.0,403.8 C325.8,406.5 323.9,407.3 318.8,410.0 C313.6,412.7 306.2,416.7 300.0,420.0 C293.8,423.3 287.6,426.9 281.2,430.0 C274.9,433.1 267.7,435.9 262.0,438.5 C256.3,441.1 251.5,443.8 247.0,445.5 C242.5,447.2 238.9,447.8 235.0,448.5 C231.1,449.2 227.8,449.5 223.6,449.5 C219.4,449.5 213.9,449.1 210.0,448.5 C206.1,447.9 203.8,447.2 200.0,446.0 C196.2,444.8 191.7,442.9 187.5,441.2 C183.3,439.6 179.2,438.3 175.0,436.2 C170.8,434.2 166.2,431.7 162.5,428.8 C158.8,425.8 155.0,422.1 152.5,418.8 C150.0,415.4 148.4,412.3 147.5,408.8 C146.6,405.2 146.3,401.5 146.9,397.5 C147.5,393.5 149.1,388.8 151.2,385.0 C153.4,381.2 156.5,378.2 160.0,375.0 C163.5,371.8 167.0,369.1 172.0,366.0 C177.0,362.9 184.5,359.3 190.0,356.5 C195.5,353.7 199.8,351.8 205.0,349.0 C210.2,346.2 214.2,344.0 221.0,340.0 C227.8,336.0 237.7,329.9 246.0,325.0 C254.3,320.1 266.4,313.1 271.0,310.6 Z" fill="none" stroke="#161616" stroke-width="1.5" stroke-linejoin="round"/>
<path d="M272.6,254.8 C277.4,252.9 277.1,255.4 279.0,256.3 C280.9,257.2 282.7,258.8 284.0,260.5 C285.3,262.2 286.4,264.4 287.0,266.5 C287.6,268.6 287.9,270.8 287.4,273.0 C286.9,275.2 288.8,275.8 284.0,279.5 C279.2,283.2 269.0,288.9 258.5,295.0 C248.0,301.1 230.3,310.9 221.0,316.0 C211.7,321.1 207.7,322.8 202.5,325.5 C197.3,328.2 193.5,330.3 190.0,332.5 C186.5,334.7 183.9,336.4 181.5,338.5 C179.1,340.6 176.1,343.3 175.5,345.0 C174.9,346.7 176.0,346.8 178.0,348.5 C180.0,350.2 184.2,352.9 187.5,355.0 C190.8,357.1 193.8,359.2 197.5,361.0 C201.2,362.8 206.1,364.4 210.0,365.5 C213.9,366.6 215.0,368.0 221.0,367.5 C227.0,367.0 237.7,365.6 246.0,362.5 C254.3,359.4 262.0,354.2 271.0,348.8 C280.0,343.3 291.0,335.6 300.0,330.0 C309.0,324.4 316.7,319.8 325.0,315.0 C333.3,310.2 345.4,303.7 350.0,301.3 C354.6,298.9 350.8,300.4 352.5,300.6 C354.2,300.8 357.9,301.1 360.0,302.5 C362.1,303.9 363.8,306.7 365.0,308.8 C366.2,310.8 367.2,312.7 367.5,315.0 C367.8,317.3 367.5,320.6 366.9,322.5 C366.3,324.4 368.6,322.9 363.8,326.2 C358.9,329.6 346.0,337.5 337.5,342.5 C329.0,347.5 318.6,352.9 312.5,356.2 C306.4,359.6 306.2,359.6 301.0,362.5 C295.8,365.4 287.2,370.6 281.2,373.8 C275.2,376.9 270.2,379.0 265.0,381.5 C259.8,384.0 255.6,386.6 250.0,388.8 C244.4,390.9 236.3,393.1 231.5,394.2 C226.7,395.3 225.8,395.4 221.0,395.3 C216.2,395.2 207.7,394.2 202.5,393.3 C197.3,392.4 194.2,391.4 190.0,390.0 C185.8,388.6 182.1,387.6 177.5,385.0 C172.9,382.4 166.5,377.8 162.5,374.5 C158.5,371.2 156.2,368.2 153.8,365.0 C151.2,361.8 148.9,358.8 147.5,355.0 C146.1,351.2 145.6,345.7 145.6,342.5 C145.6,339.3 146.8,337.7 147.5,336.0 C148.2,334.3 148.5,334.5 150.0,332.5 C151.5,330.5 153.8,326.5 156.2,323.8 C158.8,321.0 161.5,318.8 165.0,316.2 C168.5,313.8 173.3,311.2 177.5,308.8 C181.7,306.2 185.8,303.6 190.0,301.2 C194.2,298.9 197.3,297.2 202.5,294.4 C207.7,291.6 213.1,288.8 221.0,284.4 C228.9,279.9 241.4,272.6 250.0,267.7 C258.6,262.8 267.8,256.7 272.6,254.8 Z" fill="#f8132b" stroke="#3a0a0a" stroke-width="1.5" stroke-linejoin="round"/>
<g font-size="35.2" opacity="0.999">
<text transform="translate(62.2 96.6) scale(1 1.045)" fill="#e80012">ΔT=TSensor1-</text>
<text transform="translate(62.2 137.8) scale(1 1.045)" fill="#e80012">TSensor2</text>
<text transform="translate(60.9 258.0) scale(1 1.045)" fill="#e80012">Sensor1</text>
<text transform="translate(61.6 521.8) scale(1 1.03)" font-size="36" fill="#1ea0dc">Sensor2</text>
</g>
</svg>
</body></html>
